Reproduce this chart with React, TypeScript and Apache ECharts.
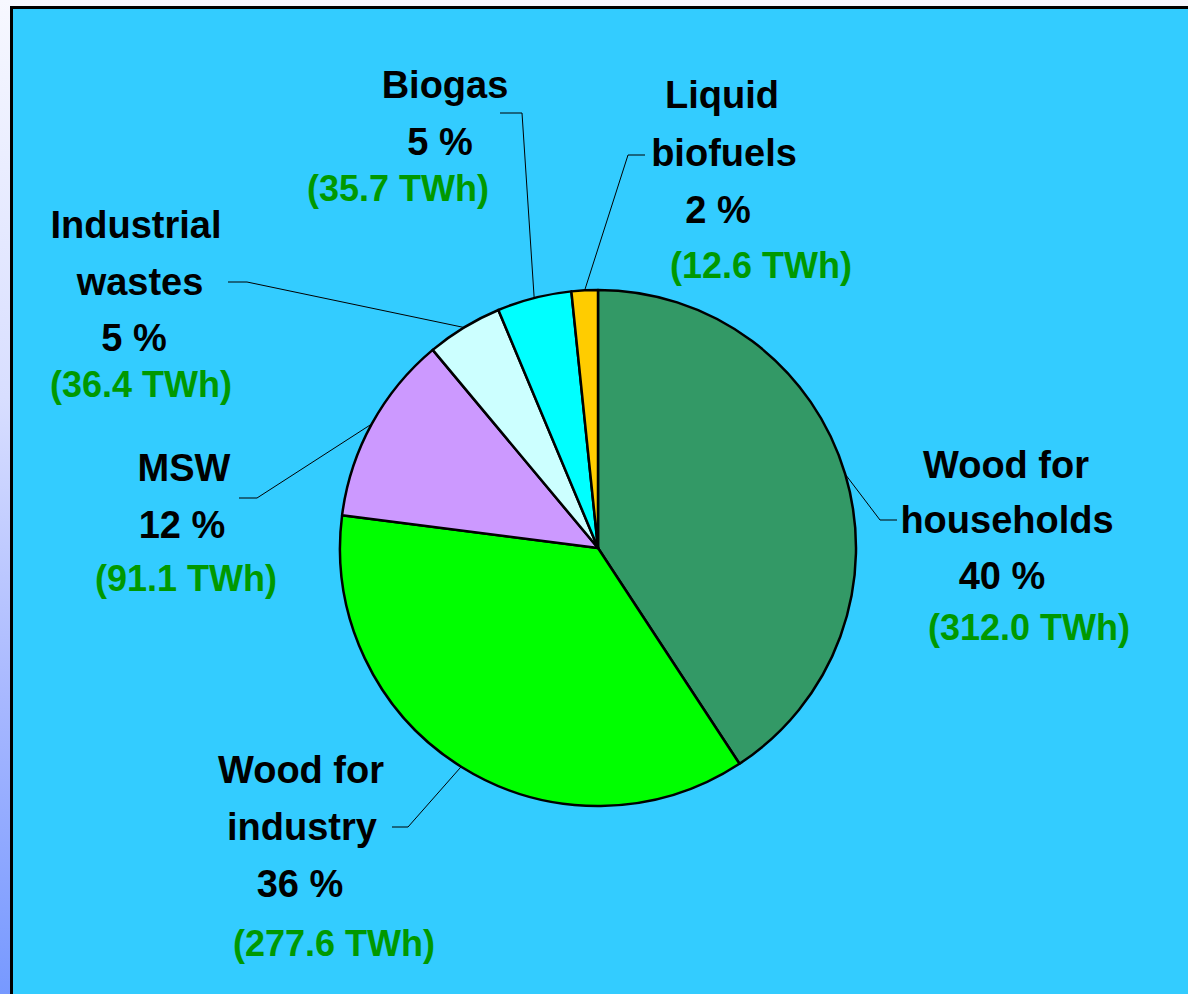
import React, { useEffect, useRef } from "react";
import * as echarts from "echarts";

// ---- data ----
const categories = [
  "Wood for\nhouseholds",
  "Wood for\nindustry",
  "MSW",
  "Industrial\nwastes",
  "Biogas",
  "Liquid\nbiofuels",
];
const energyTWh = [312.0, 277.6, 91.1, 36.4, 35.7, 12.6];
const percentLabels = [40, 36, 12, 5, 5, 2];

// ---- styles / layout (kept apart from the data) ----
const sliceColors = ["#339966", "#00FF00", "#CC99FF", "#CCFFFF", "#00FFFF", "#FFCC00"];
const FONT = "'Liberation Sans', Arial, Helvetica, sans-serif";
const BLACK_SIZE = 38;
const GREEN_SIZE = 36;
const GREEN = "#009900";

// centre x of every text line of each label
const labelLineX = [
  [1006, 1007, 1002, 1029],
  [301, 302, 300, 334],
  [184, 182, 186],
  [136, 140, 134, 141],
  [445, 440, 398],
  [722, 724, 718, 761],
];
// centre y of every text line of each label
const labelLineY = [
  [465, 520, 576, 627],
  [770, 827, 884, 943],
  [468, 525, 578],
  [225, 282, 338, 384],
  [85, 142, 188],
  [95, 153, 210, 265],
];
// leader line elbow and end point of each label
const leaderElbows = [
  [[880, 520], [897, 520]],
  [[408, 827], [392, 827]],
  [[257, 498], [239, 498]],
  [[247, 282], [228, 282]],
  [[522, 113], [500, 113]],
  [[628, 155], [645, 155]],
];
const FIRST_LINE_HEIGHT = 56;

export default function App() {
  const ref = useRef<HTMLDivElement>(null);

  useEffect(() => {
    document.body.style.margin = "0";
    if (!ref.current) return;
    const chart = echarts.init(ref.current, null, { renderer: "svg" });

    const anchors: number[][] = [];
    const data = categories.map((name, i) => {
      const lines = [
        ...name.split("\n"),
        `${percentLabels[i]} %`,
        `(${energyTWh[i].toFixed(1)} TWh)`,
      ];
      const xs = labelLineX[i];
      const ys = labelLineY[i];
      const anchorX = xs[0];
      const heights: number[] = [FIRST_LINE_HEIGHT];
      for (let k = 1; k < lines.length; k++) {
        heights[k] = 2 * (ys[k] - ys[k - 1]) - heights[k - 1];
      }
      anchors[i] = [anchorX, ys[0] - FIRST_LINE_HEIGHT / 2];
      const rich: Record<string, any> = {};
      lines.forEach((_t, k) => {
        const d = xs[k] - anchorX;
        const green = k === lines.length - 1;
        rich["l" + k] = {
          fontFamily: FONT,
          fontWeight: "bold",
          fontSize: green ? GREEN_SIZE : BLACK_SIZE,
          color: green ? GREEN : "#000000",
          lineHeight: heights[k],
          padding: [0, d < 0 ? -2 * d : 0, 0, d > 0 ? 2 * d : 0],
        };
      });
      return {
        name,
        value: energyTWh[i],
        itemStyle: { color: sliceColors[i] },
        label: {
          formatter: lines.map((t, k) => `{l${k}|${t}}`).join("\n"),
          rich,
        },
      };
    });

    chart.setOption({
      animation: false,
      graphic: [
        {
          type: "rect",
          z: -10,
          silent: true,
          shape: { x: 10, y: 6, width: 1178, height: 988 },
          style: { fill: "#000000" },
        },
        {
          type: "rect",
          z: -9,
          silent: true,
          shape: { x: 13, y: 9, width: 1175, height: 985 },
          style: { fill: "#33CCFF" },
        },
      ],
      series: [
        {
          type: "pie",
          center: [598, 548],
          radius: 258,
          startAngle: 90,
          clockwise: true,
          avoidLabelOverlap: false,
          silent: true,
          emphasis: { disabled: true },
          itemStyle: { borderColor: "#000000", borderWidth: 2.5 },
          label: {
            show: true,
            position: "outside",
            fontFamily: FONT,
          },
          labelLine: {
            show: true,
            length: 10,
            length2: 10,
            smooth: false,
            lineStyle: { color: "#000000", width: 1 },
          },
          labelLayout: (params: any) => {
            const i = params.dataIndex;
            const res: any = {
              x: anchors[i][0],
              y: anchors[i][1],
              align: "center",
              verticalAlign: "top",
            };
            const pts = params.labelLinePoints;
            if (pts && pts[0]) {
              res.labelLinePoints = [
                [pts[0][0], pts[0][1]],
                leaderElbows[i][0],
                leaderElbows[i][1],
              ];
            }
            return res;
          },
          data,
        },
      ],
    });

    return () => chart.dispose();
  }, []);

  return (
    <div
      style={{
        position: "absolute",
        left: 0,
        top: 0,
        width: 1188,
        height: 994,
        background:
          "linear-gradient(to bottom, #F7F8FF 0%, #D8DEFF 40%, #A8B8FF 70%, #7799FF 100%)",
      }}
    >
      <div ref={ref} style={{ width: 1188, height: 994 }} />
    </div>
  );
}
